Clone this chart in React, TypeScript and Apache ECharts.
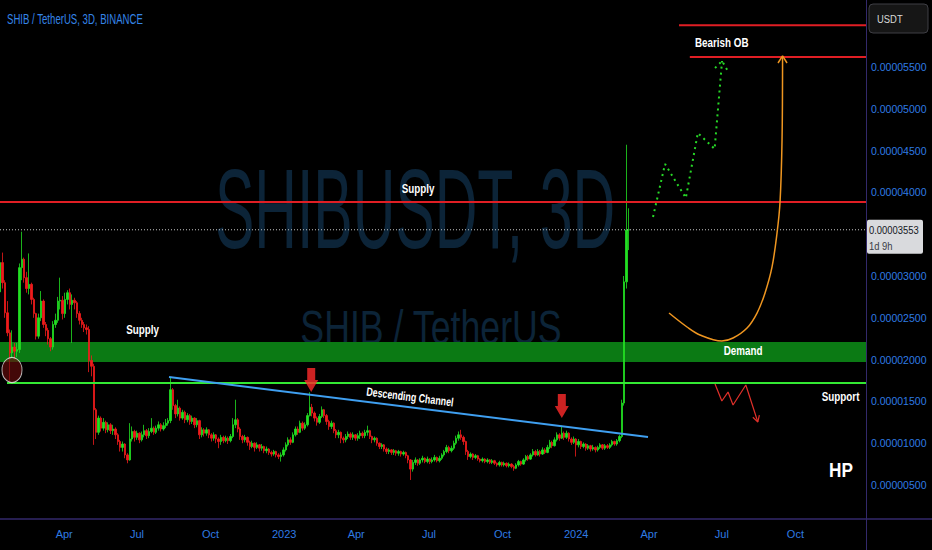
import React, { useEffect, useRef } from "react";
import * as echarts from "echarts";

// ---------- data (prices in units of 1e-5 USDT, time in days after 2022-01-01) ----------
const PRICE_UNIT = 1e-5;
const firstCandleDay = 10;
const candleStepDays = 3;
const firstOpen = 2.81;

const closes = [
  3.16, 2.92, 2.56, 2.32, 2.08, 2.15, 2.10, 2.12, 3.10, 3.20,
  2.98, 2.85, 2.90, 2.72, 2.55, 2.28, 2.50, 2.70, 2.42, 2.35,
  2.25, 2.15, 2.42, 2.47, 2.70, 2.71, 2.55, 2.72, 2.80, 2.66,
  2.71, 2.68, 2.55, 2.47, 2.42, 2.38, 2.36, 1.99, 1.92, 1.40,
  1.13, 1.30, 1.18, 1.25, 1.16, 1.22, 1.15, 1.17, 1.10, 1.02,
  0.95, 0.99, 0.86, 0.80, 1.05, 1.14, 1.07, 1.12, 1.04, 1.10,
  1.15, 1.09, 1.14, 1.18, 1.13, 1.18, 1.22, 1.17, 1.21, 1.24,
  1.27, 1.64, 1.45, 1.35, 1.42, 1.30, 1.37, 1.28, 1.33, 1.26,
  1.30, 1.22, 1.27, 1.10, 1.16, 1.12, 1.16, 1.10, 1.06, 1.10,
  1.05, 1.02, 1.07, 1.03, 1.06, 1.03, 1.08, 1.22, 1.28, 1.17,
  1.08, 1.04, 1.07, 1.01, 0.96, 1.00, 0.95, 0.98, 0.94, 0.96,
  0.91, 0.93, 0.89, 0.87, 0.90, 0.86, 0.84, 0.86, 0.92, 0.98,
  1.04, 1.01, 1.10, 1.17, 1.13, 1.24, 1.18, 1.22, 1.33, 1.43,
  1.36, 1.30, 1.25, 1.32, 1.40, 1.33, 1.26, 1.20, 1.24, 1.15,
  1.10, 1.13, 1.06, 1.04, 1.08, 1.11, 1.07, 1.10, 1.06, 1.09,
  1.12, 1.09, 1.13, 1.15, 1.08, 1.04, 1.06, 1.00, 0.96, 0.98,
  0.93, 0.90, 0.92, 0.89, 0.91, 0.88, 0.90, 0.87, 0.89, 0.85,
  0.80, 0.69, 0.77, 0.80, 0.76, 0.80, 0.82, 0.78, 0.81, 0.78,
  0.80, 0.83, 0.79, 0.82, 0.86, 0.90, 0.95, 0.91, 0.94, 1.00,
  1.06, 1.10, 1.07, 1.02, 0.90, 0.84, 0.87, 0.83, 0.85, 0.81,
  0.79, 0.81, 0.78, 0.80, 0.77, 0.79, 0.76, 0.74, 0.77, 0.74,
  0.76, 0.73, 0.75, 0.72, 0.70, 0.74, 0.78, 0.75, 0.80, 0.84,
  0.81, 0.86, 0.90, 0.86, 0.90, 0.87, 0.92, 0.89, 0.95, 1.01,
  0.97, 1.04, 1.10, 1.06, 1.12, 1.07, 1.12, 1.05, 1.01, 1.05,
  0.98, 1.02, 0.96, 0.99, 0.94, 0.97, 0.93, 0.95, 0.92, 0.95,
  0.98, 0.94, 0.97, 0.95, 0.98, 1.02, 0.99, 1.03, 1.08, 1.48,
  2.93, 3.55, 3.553,
];

const highs = [
  3.28, 3.28, 2.95, 2.70, 2.36, 2.35, 2.20, 2.20, 3.15, 3.53,
  3.22, 3.05, 3.27, 2.92, 2.74, 2.56, 2.55, 2.82, 2.72, 2.45,
  2.38, 2.27, 2.46, 2.55, 2.75, 2.98, 2.76, 2.80, 2.83, 2.85,
  2.78, 2.74, 2.70, 2.58, 2.50, 2.45, 2.42, 2.40, 2.05, 1.95,
  1.42, 1.33, 1.32, 1.30, 1.27, 1.25, 1.24, 1.22, 1.19, 1.12,
  1.04, 1.02, 1.00, 0.88, 1.24, 1.20, 1.16, 1.15, 1.13, 1.14,
  1.22, 1.17, 1.18, 1.30, 1.20, 1.21, 1.26, 1.24, 1.25, 1.29,
  1.30, 1.79, 1.66, 1.47, 1.52, 1.44, 1.40, 1.39, 1.36, 1.35,
  1.33, 1.31, 1.30, 1.28, 1.19, 1.18, 1.19, 1.17, 1.12, 1.13,
  1.11, 1.07, 1.10, 1.09, 1.09, 1.08, 1.11, 1.30, 1.52, 1.30,
  1.19, 1.10, 1.10, 1.08, 1.03, 1.03, 1.01, 1.01, 0.99, 0.99,
  0.97, 0.96, 0.94, 0.91, 0.92, 0.91, 0.88, 0.89, 0.95, 1.01,
  1.07, 1.07, 1.13, 1.20, 1.20, 1.27, 1.26, 1.25, 1.36, 1.61,
  1.47, 1.38, 1.32, 1.35, 1.44, 1.41, 1.35, 1.28, 1.27, 1.25,
  1.17, 1.16, 1.14, 1.08, 1.11, 1.14, 1.13, 1.13, 1.11, 1.12,
  1.15, 1.14, 1.16, 1.21, 1.16, 1.09, 1.08, 1.07, 1.01, 1.00,
  0.99, 0.95, 0.94, 0.93, 0.93, 0.92, 0.92, 0.91, 0.91, 0.90,
  0.86, 0.81, 0.80, 0.83, 0.81, 0.82, 0.85, 0.83, 0.84, 0.82,
  0.83, 0.86, 0.84, 0.85, 0.88, 0.92, 0.98, 0.97, 0.97, 1.03,
  1.09, 1.14, 1.16, 1.09, 1.03, 0.92, 0.89, 0.88, 0.87, 0.86,
  0.82, 0.83, 0.82, 0.82, 0.81, 0.81, 0.80, 0.77, 0.79, 0.78,
  0.78, 0.77, 0.77, 0.76, 0.74, 0.76, 0.80, 0.79, 0.82, 0.86,
  0.86, 0.88, 0.93, 0.92, 0.93, 0.92, 0.95, 0.94, 0.98, 1.04,
  1.03, 1.07, 1.13, 1.12, 1.21, 1.14, 1.15, 1.13, 1.07, 1.08,
  1.06, 1.05, 1.03, 1.01, 1.00, 0.99, 0.98, 0.98, 0.96, 0.97,
  1.00, 0.99, 0.99, 0.99, 1.00, 1.04, 1.03, 1.05, 1.10, 1.52,
  3.00, 4.57, 3.81,
];

const lows = [
  2.75, 2.85, 2.50, 2.28, 1.72, 2.02, 2.00, 2.03, 2.08, 2.95,
  2.92, 2.80, 2.78, 2.66, 2.50, 2.24, 2.25, 2.46, 2.38, 2.28,
  2.18, 2.10, 2.12, 2.38, 2.44, 2.60, 2.48, 2.50, 2.66, 2.60,
  2.20, 2.60, 2.50, 2.42, 2.38, 2.33, 2.30, 1.85, 1.80, 0.98,
  1.05, 1.10, 1.14, 1.15, 1.12, 1.13, 1.11, 1.10, 1.05, 0.98,
  0.90, 0.90, 0.82, 0.76, 0.79, 1.02, 1.02, 1.04, 1.00, 1.02,
  1.07, 1.05, 1.06, 1.12, 1.10, 1.11, 1.15, 1.14, 1.15, 1.18,
  1.21, 1.24, 1.40, 1.30, 1.32, 1.27, 1.28, 1.24, 1.25, 1.22,
  1.23, 1.18, 1.19, 1.05, 1.07, 1.08, 1.09, 1.06, 1.02, 1.03,
  1.00, 0.94, 0.98, 1.00, 1.01, 0.99, 1.01, 1.06, 1.18, 1.13,
  1.04, 1.00, 1.01, 0.97, 0.92, 0.94, 0.90, 0.93, 0.90, 0.91,
  0.88, 0.88, 0.86, 0.84, 0.85, 0.83, 0.81, 0.78, 0.84, 0.90,
  0.96, 0.98, 1.00, 1.08, 1.10, 1.12, 1.15, 1.16, 1.20, 1.32,
  1.32, 1.26, 1.21, 1.23, 1.30, 1.30, 1.22, 1.16, 1.17, 1.12,
  1.06, 1.06, 1.00, 1.00, 1.01, 1.05, 1.04, 1.04, 1.03, 1.03,
  1.05, 1.06, 1.06, 1.09, 1.05, 1.00, 1.01, 0.97, 0.93, 0.93,
  0.90, 0.87, 0.87, 0.86, 0.86, 0.85, 0.85, 0.84, 0.85, 0.82,
  0.76, 0.56, 0.66, 0.74, 0.73, 0.74, 0.77, 0.76, 0.76, 0.75,
  0.76, 0.78, 0.77, 0.77, 0.80, 0.84, 0.88, 0.88, 0.89, 0.92,
  0.98, 1.03, 1.04, 0.98, 0.86, 0.80, 0.82, 0.80, 0.81, 0.79,
  0.77, 0.77, 0.76, 0.76, 0.75, 0.75, 0.74, 0.72, 0.72, 0.72,
  0.72, 0.71, 0.71, 0.70, 0.67, 0.69, 0.72, 0.73, 0.74, 0.78,
  0.79, 0.80, 0.84, 0.84, 0.85, 0.84, 0.86, 0.87, 0.88, 0.93,
  0.94, 0.96, 1.02, 1.03, 1.05, 1.04, 1.05, 1.02, 0.98, 0.99,
  0.84, 0.95, 0.93, 0.94, 0.91, 0.92, 0.90, 0.91, 0.89, 0.90,
  0.93, 0.92, 0.92, 0.93, 0.93, 0.96, 0.97, 0.97, 1.01, 1.06,
  1.45, 2.85, 3.31,
];

const xTickDays = [90, 181, 273, 365, 455, 546, 638, 730, 821, 912, 1004];
const xTickLabels = ["Apr", "Jul", "Oct", "2023", "Apr", "Jul", "Oct", "2024", "Apr", "Jul", "Oct"];
const yTickValues = [0.5, 1, 1.5, 2, 2.5, 3, 4, 4.5, 5, 5.5];

const xRange = [9.75, 1092.2];
const yRange = [0.0933, 6.3014];

const supplyLevel = 3.885;
const bearishOBLevels = [6.0, 5.62];
const bearishOBStartDays = [858.5, 872];
const demandZone = [1.97, 2.21];
const supportLevel = 1.72;
const supportStartDay = 18.5;
const lastPrice = 3.553;
const lastPriceCountdown = "1d 9h";

const channelLine = [[221, 1.792], [819.75, 1.074]];
const projectionPath = [[826, 3.706], [841, 4.34], [867, 3.933], [882, 4.71], [903, 4.52], [912.25, 5.572]];
const projectionArrow = [[903.5, 5.488], [912.25, 5.572], [920.25, 5.44]];
const reboundCurve = [
  [846, 2.557], [868.5, 2.39], [884.75, 2.294], [912, 2.222], [926, 2.258], [943.5, 2.378],
  [956, 2.557], [966, 2.797], [974.75, 3.108], [981, 3.514], [984.75, 3.885], [987.25, 4.627], [987.9, 5.62],
];
const reboundArrow = [[982.25, 5.548], [987.9, 5.632], [993.5, 5.548]];
const dropPath = [[903.5, 1.708], [912, 1.505], [919.75, 1.612], [926, 1.457], [942, 1.696], [957, 1.254]];
const dropArrow = [[950.75, 1.31], [957, 1.254], [958.9, 1.335]];
const signalArrows = [[398.75, 1.612], [712, 1.3]];
const circleMark = [[24.75, 1.876]];

const noteTexts = [
  { text: "Supply", at: [532.25, 4.04] },
  { text: "Supply", at: [187.9, 2.354] },
  { text: "Demand", at: [938.5, 2.103] },
  { text: "Support", at: [1060.4, 1.553] },
  { text: "Bearish OB", at: [911.9, 5.787] },
];
const channelText = { text: "Descending Channel", at: [522.25, 1.559] };
const authorText = { text: "HP", at: [1061, 0.68] };
const titleText = "SHIB / TetherUS, 3D, BINANCE";
const watermarkMain = "SHIBUSDT, 3D";
const watermarkSub = "SHIB / TetherUS";
const currencyText = "USDT";

// ---------- styling ----------
const FONT = "'Liberation Sans', Arial, sans-serif";
const NARROW = 0.82; // horizontal squeeze that mimics a narrow face
const BLUE = "#2f7be3";
const SEP = "#33296b";
const UP = "#22e022";
const DOWN = "#f01c1c";

function measure(text: string, size: number, weight = "normal") {
  const c = document.createElement("canvas").getContext("2d");
  if (!c) return text.length * size * 0.5;
  c.font = `${weight} ${size}px ${FONT}`;
  return c.measureText(text).width;
}

export default function App() {
  const ref = useRef<HTMLDivElement>(null);

  useEffect(() => {
    document.body.style.margin = "0";
    document.body.style.background = "#000";
    const el = ref.current;
    if (!el) return;
    const chart = echarts.init(el, null, { renderer: "svg" });

    const candles = closes.map((c, i) => [
      firstCandleDay + i * candleStepDays,
      i === 0 ? firstOpen : closes[i - 1],
      c,
      lows[i],
      highs[i],
    ]);

    const line = (data: number[][], color: string, width: number, type: any = "solid", smooth: any = false, z = 4) => ({
      type: "line",
      data,
      symbol: "none",
      showSymbol: false,
      silent: true,
      smooth,
      lineStyle: { color, width, type },
      z,
    });

    chart.setOption({
      animation: false,
      backgroundColor: "#000000",
      grid: { left: 0, right: 66, top: 0, bottom: 31, outerBoundsMode: "none", containLabel: false },
      xAxis: {
        type: "value",
        min: xRange[0],
        max: xRange[1],
        axisLine: { show: false },
        axisTick: { show: false },
        splitLine: { show: false },
        axisLabel: {
          customValues: xTickDays,
          color: BLUE,
          fontSize: 11,
          fontFamily: FONT,
          margin: 9,
          formatter: (v: number) => {
            const i = xTickDays.indexOf(Math.round(v));
            return i >= 0 ? xTickLabels[i] : "";
          },
        },
      },
      yAxis: {
        type: "value",
        position: "right",
        min: yRange[0],
        max: yRange[1],
        axisLine: { show: false },
        axisTick: { show: false },
        splitLine: { show: false },
        axisLabel: {
          customValues: yTickValues,
          color: BLUE,
          fontSize: 10.5,
          fontFamily: FONT,
          margin: 5,
          formatter: (v: number) => (v * PRICE_UNIT).toFixed(8),
        },
      },
      series: [
        {
          type: "candlestick",
          data: candles,
          barWidth: 1.8,
          silent: true,
          itemStyle: { color: UP, color0: DOWN, borderColor: UP, borderColor0: DOWN, borderWidth: 0.8 },
          markArea: {
            silent: true,
            label: { show: false },
            itemStyle: { color: "#0b7a14" },
            data: [[{ yAxis: demandZone[0] }, { yAxis: demandZone[1] }]],
          },
          z: 2,
        },
        line([[xRange[0], lastPrice], [xRange[1], lastPrice]], "#c8c8c8", 1, [1, 2]),
        line([[xRange[0], supplyLevel], [xRange[1], supplyLevel]], "#e01e24", 2),
        line([[bearishOBStartDays[0], bearishOBLevels[0]], [xRange[1], bearishOBLevels[0]]], "#e01e24", 2),
        line([[bearishOBStartDays[1], bearishOBLevels[1]], [xRange[1], bearishOBLevels[1]]], "#e01e24", 2),
        line([[supportStartDay, supportLevel], [xRange[1], supportLevel]], "#33e833", 2),
        line(channelLine, "#3f9ff0", 2),
        line(projectionPath, "#27d827", 2, [2, 4]),
        line(projectionArrow, "#27d827", 2, [2, 4]),
        line(reboundCurve, "#ef9620", 1.5, "solid", 0.35),
        line(reboundArrow, "#ef9620", 1.5),
        line(dropPath, "#e0302a", 1.2),
        line(dropArrow, "#e0302a", 1.2),
        {
          type: "scatter",
          data: signalArrows,
          symbol: "path://M3,0 L11,0 L11,12 L14,12 L7,24 L0,12 L3,12 Z",
          symbolSize: [14, 24],
          symbolOffset: [0, "-50%"],
          silent: true,
          itemStyle: { color: "#ff2a2a" },
          z: 6,
        },
        {
          type: "scatter",
          data: circleMark,
          symbol: "circle",
          symbolSize: [20, 25],
          silent: true,
          itemStyle: { color: "rgba(105,12,12,0.8)", borderColor: "#e8e8e8", borderWidth: 1 },
          z: 6,
        },
      ],
    });

    const toPx = (p: number[]) => chart.convertToPixel({ gridIndex: 0 }, p) as number[];
    const [gridRight, gridBottom] = toPx([xRange[1], yRange[0]]);
    const [, priceY] = toPx([xRange[1], lastPrice]);
    const c1 = toPx(channelLine[0]);
    const c2 = toPx(channelLine[1]);
    const channelAngle = Math.atan2(c2[1] - c1[1], c2[0] - c1[0]);

    const wmMainSize = 114;
    const wmSubSize = 48;
    const wmMainScale = 400 / measure(watermarkMain, wmMainSize);
    const wmSubScale = 262 / measure(watermarkSub, wmSubSize);
    const titleSize = 14;
    const titleScale = 136 / measure(titleText, titleSize);

    const labelText = (text: string, p: number[], size: number, weight: string, extra: any = {}) => ({
      type: "text",
      x: p[0],
      y: p[1],
      z: 100,
      silent: true,
      scaleX: NARROW,
      ...extra,
      style: {
        text,
        fill: "#ffffff",
        fontSize: size,
        fontWeight: weight,
        fontFamily: FONT,
        textAlign: "center",
        textVerticalAlign: "middle",
      },
    });

    const smallText = (text: string, x: number, y: number, fill: string) => ({
      type: "text", x, y, z: 101, silent: true, scaleX: NARROW,
      style: { text, fill, fontSize: 11.5, fontFamily: FONT, textAlign: "left", textVerticalAlign: "middle" },
    });

    const graphic: any[] = [
      {
        type: "text", x: 415, y: 208, scaleX: wmMainScale, z: 0, silent: true,
        style: { text: watermarkMain, fill: "#0c2438", fontSize: wmMainSize, fontFamily: FONT, textAlign: "center", textVerticalAlign: "middle" },
      },
      {
        type: "text", x: 431, y: 328, scaleX: wmSubScale, z: 0, silent: true,
        style: { text: watermarkSub, fill: "#0c2438", fontSize: wmSubSize, fontFamily: FONT, textAlign: "center", textVerticalAlign: "middle" },
      },
      {
        type: "text", x: 7, y: 19, z: 100, silent: true, scaleX: titleScale,
        style: { text: titleText, fill: "#3585e8", fontSize: titleSize, fontFamily: FONT, textAlign: "left", textVerticalAlign: "middle" },
      },
      ...noteTexts.map((n) => labelText(n.text, toPx(n.at), 12, "bold")),
      labelText(channelText.text, toPx(channelText.at), 12, "bold", { rotation: -channelAngle, scaleX: 0.74 }),
      labelText(authorText.text, toPx(authorText.at), 21, "bold"),
      { type: "line", z: 50, silent: true, shape: { x1: gridRight + 0.5, y1: 0, x2: gridRight + 0.5, y2: 550 }, style: { stroke: SEP, lineWidth: 1 } },
      { type: "line", z: 50, silent: true, shape: { x1: 0, y1: gridBottom, x2: 932, y2: gridBottom }, style: { stroke: SEP, lineWidth: 1.5 } },
      {
        type: "rect", z: 100, silent: true,
        shape: { x: gridRight + 3, y: 4, width: 59, height: 29, r: 4 },
        style: { fill: "#161616", stroke: "#3e3e44", lineWidth: 1 },
      },
      smallText(currencyText, gridRight + 11, 19, "#d8d8d8"),
      {
        type: "rect", z: 100, silent: true,
        shape: { x: gridRight + 1, y: priceY - 10, width: 56, height: 34, r: 2 },
        style: { fill: "#d9dadd" },
      },
      smallText((lastPrice * PRICE_UNIT).toFixed(8), gridRight + 3, priceY, "#131722"),
      smallText(lastPriceCountdown, gridRight + 3, priceY + 16, "#3a3d45"),
    ];

    chart.setOption({ graphic });

    return () => chart.dispose();
  }, []);

  return <div ref={ref} style={{ width: 932, height: 550, background: "#000" }} />;
}
